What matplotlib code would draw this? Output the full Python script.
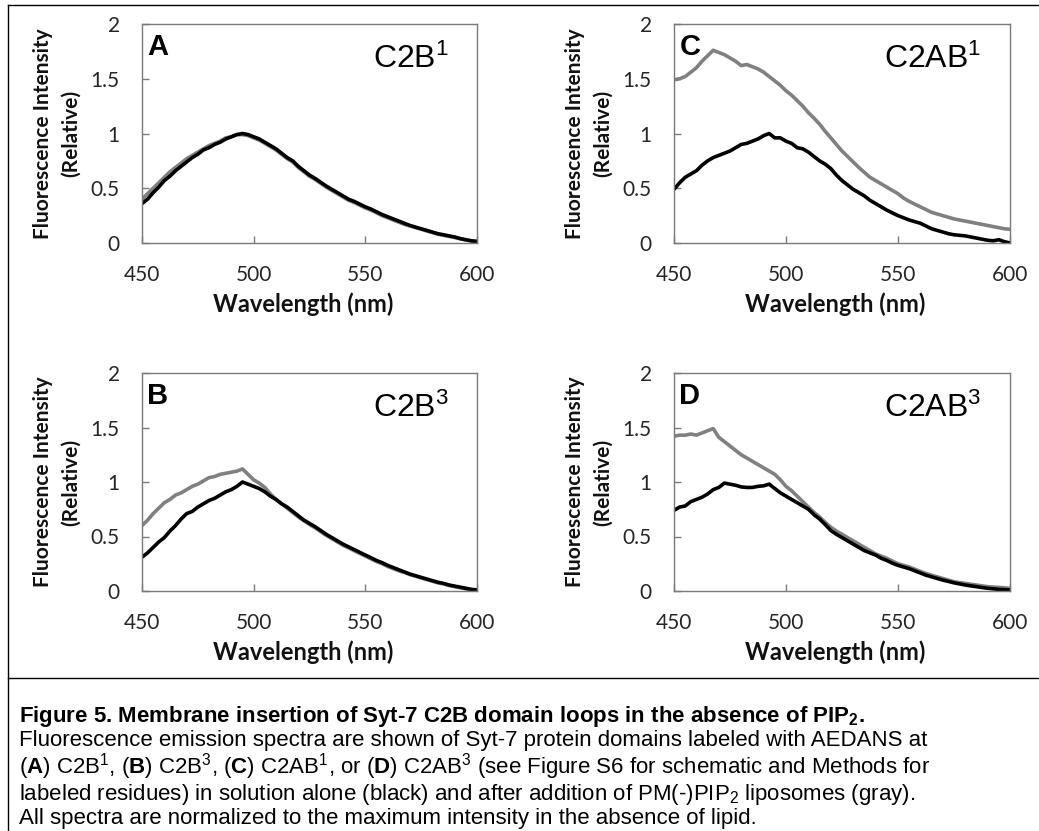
import matplotlib
matplotlib.use('Agg')
import matplotlib.pyplot as plt
from matplotlib.lines import Line2D

plt.rcParams['mathtext.fontset'] = 'custom'
plt.rcParams['mathtext.rm'] = 'Liberation Sans'
plt.rcParams['mathtext.bf'] = 'Liberation Sans:bold'
plt.rcParams['mathtext.it'] = 'Liberation Sans:italic'

W, H = 1039, 831

# wavelength grid (nm)
wavelength = [450, 452.5, 455, 457.5, 460, 462.5, 465, 467.5, 470, 472.5,
              475, 477.5, 480, 482.5, 485, 487.5, 490, 492.5, 495, 497.5,
              500, 502.5, 505, 507.5, 510, 512.5, 515, 517.5, 520, 522.5,
              525, 527.5, 530, 532.5, 535, 537.5, 540, 542.5, 545, 547.5,
              550, 552.5, 555, 557.5, 560, 562.5, 565, 567.5, 570, 572.5,
              575, 577.5, 580, 582.5, 585, 587.5, 590, 592.5, 595, 597.5, 600]

# A: C2B1
c2b1_alone = [0.36, 0.40, 0.46, 0.51, 0.57, 0.61, 0.66, 0.70, 0.74, 0.78,
              0.81, 0.85, 0.87, 0.90, 0.92, 0.95, 0.97, 0.99, 1.00, 0.99,
              0.97, 0.95, 0.92, 0.89, 0.86, 0.82, 0.78, 0.75, 0.70, 0.66,
              0.62, 0.59, 0.555, 0.52, 0.49, 0.46, 0.43, 0.40, 0.38, 0.355,
              0.33, 0.31, 0.285, 0.26, 0.24, 0.22, 0.20, 0.18, 0.16, 0.145,
              0.13, 0.115, 0.10, 0.085, 0.075, 0.065, 0.055, 0.04, 0.03, 0.02, 0.015]
c2b1_lipo = [0.40, 0.45, 0.50, 0.55, 0.60, 0.65, 0.69, 0.73, 0.77, 0.80,
             0.83, 0.86, 0.89, 0.91, 0.93, 0.96, 0.97, 0.99, 0.99, 0.98,
             0.96, 0.94, 0.91, 0.88, 0.85, 0.81, 0.77, 0.74, 0.69, 0.65,
             0.61, 0.58, 0.545, 0.51, 0.48, 0.45, 0.42, 0.39, 0.37, 0.345,
             0.32, 0.30, 0.275, 0.25, 0.23, 0.21, 0.19, 0.17, 0.155, 0.14,
             0.125, 0.11, 0.095, 0.08, 0.07, 0.06, 0.05, 0.038, 0.028, 0.018, 0.012]

# B: C2B3
c2b3_alone = [0.31, 0.35, 0.40, 0.45, 0.49, 0.55, 0.60, 0.66, 0.71, 0.73,
              0.77, 0.80, 0.83, 0.85, 0.88, 0.91, 0.93, 0.96, 1.00, 0.98,
              0.96, 0.94, 0.91, 0.87, 0.84, 0.80, 0.77, 0.73, 0.69, 0.65,
              0.62, 0.59, 0.555, 0.52, 0.49, 0.46, 0.43, 0.405, 0.38, 0.355,
              0.33, 0.305, 0.28, 0.26, 0.235, 0.215, 0.195, 0.175, 0.155, 0.14,
              0.125, 0.11, 0.095, 0.08, 0.07, 0.055, 0.045, 0.035, 0.025, 0.015, 0.01]
c2b3_lipo = [0.60, 0.65, 0.71, 0.76, 0.81, 0.84, 0.88, 0.90, 0.93, 0.96,
             0.98, 1.01, 1.04, 1.05, 1.07, 1.08, 1.09, 1.10, 1.12, 1.07,
             1.02, 0.99, 0.95, 0.89, 0.84, 0.80, 0.76, 0.72, 0.68, 0.645,
             0.61, 0.58, 0.545, 0.51, 0.48, 0.45, 0.42, 0.395, 0.37, 0.345,
             0.32, 0.295, 0.27, 0.25, 0.225, 0.205, 0.185, 0.17, 0.15, 0.135,
             0.12, 0.105, 0.09, 0.075, 0.065, 0.05, 0.04, 0.03, 0.02, 0.012, 0.008]

# C: C2AB1
c2ab1_alone = [0.49, 0.55, 0.60, 0.63, 0.66, 0.71, 0.75, 0.78, 0.80, 0.82,
               0.84, 0.87, 0.90, 0.91, 0.93, 0.95, 0.98, 1.00, 0.96, 0.96,
               0.93, 0.91, 0.87, 0.86, 0.83, 0.79, 0.75, 0.72, 0.68, 0.62,
               0.57, 0.53, 0.49, 0.46, 0.43, 0.39, 0.36, 0.33, 0.30, 0.275,
               0.25, 0.23, 0.21, 0.195, 0.18, 0.155, 0.13, 0.115, 0.10, 0.085,
               0.075, 0.07, 0.065, 0.055, 0.045, 0.035, 0.025, 0.02, 0.03, 0.012, 0.0]
c2ab1_lipo = [1.49, 1.50, 1.52, 1.56, 1.60, 1.66, 1.71, 1.76, 1.74, 1.72,
              1.69, 1.66, 1.62, 1.63, 1.61, 1.59, 1.56, 1.52, 1.48, 1.44,
              1.39, 1.35, 1.30, 1.25, 1.19, 1.14, 1.085, 1.02, 0.96, 0.90,
              0.84, 0.79, 0.74, 0.69, 0.645, 0.60, 0.57, 0.54, 0.51, 0.48,
              0.45, 0.41, 0.38, 0.355, 0.33, 0.305, 0.28, 0.265, 0.25, 0.235,
              0.22, 0.21, 0.20, 0.19, 0.18, 0.17, 0.16, 0.15, 0.14, 0.13, 0.125]

# D: C2AB3
c2ab3_alone = [0.74, 0.77, 0.78, 0.82, 0.84, 0.86, 0.89, 0.93, 0.95, 0.99,
               0.98, 0.97, 0.955, 0.95, 0.95, 0.96, 0.965, 0.98, 0.94, 0.90,
               0.87, 0.84, 0.81, 0.78, 0.75, 0.70, 0.66, 0.61, 0.555, 0.52,
               0.49, 0.46, 0.43, 0.40, 0.37, 0.35, 0.33, 0.30, 0.28, 0.255,
               0.235, 0.22, 0.205, 0.185, 0.165, 0.145, 0.13, 0.115, 0.10, 0.088,
               0.075, 0.065, 0.055, 0.047, 0.04, 0.032, 0.025, 0.02, 0.015, 0.012, 0.01]
c2ab3_lipo = [1.42, 1.43, 1.43, 1.44, 1.43, 1.45, 1.47, 1.49, 1.41, 1.37,
              1.33, 1.29, 1.25, 1.22, 1.19, 1.16, 1.13, 1.10, 1.07, 1.02,
              0.96, 0.92, 0.87, 0.82, 0.77, 0.72, 0.68, 0.63, 0.585, 0.55,
              0.52, 0.49, 0.46, 0.43, 0.40, 0.37, 0.34, 0.32, 0.30, 0.275,
              0.25, 0.235, 0.22, 0.20, 0.18, 0.16, 0.145, 0.13, 0.115, 0.10,
              0.085, 0.077, 0.07, 0.062, 0.055, 0.047, 0.04, 0.036, 0.033, 0.029, 0.025]

panel_letters = ['A', 'B', 'C', 'D']
panel_names = [r'C2B$^1$', r'C2B$^3$', r'C2AB$^1$', r'C2AB$^3$']
alone_series = [c2b1_alone, c2b3_alone, c2ab1_alone, c2ab3_alone]
lipo_series = [c2b1_lipo, c2b3_lipo, c2ab1_lipo, c2ab3_lipo]
x_ticks = [450, 500, 550, 600]
y_ticks = [0, 0.5, 1, 1.5, 2]
y_ticklabels = ['0', '0.5', '1', '1.5', '2']

# axes boxes in pixels: left, top, right, bottom
boxes = [(142, 24, 477, 243), (142, 373, 477, 591),
         (674, 24, 1010, 243), (674, 373, 1010, 591)]

SPINE = '#7a7a7a'
GRAY = '#808080'
TXT = '#262626'

fig = plt.figure(figsize=(W / 100, H / 100), dpi=100)

for i, (l, t, r, b) in enumerate(boxes):
    ax = fig.add_axes([l / W, (H - b) / H, (r - l) / W, (b - t) / H])
    ax.plot(wavelength, lipo_series[i], color=GRAY, lw=2.6, solid_joinstyle='round')
    ax.plot(wavelength, alone_series[i], color='black', lw=2.6, solid_joinstyle='round')
    ax.set_xlim(450, 600)
    ax.set_ylim(0, 2)
    ax.set_xticks(x_ticks)
    ax.set_yticks(y_ticks)
    ax.set_yticklabels(y_ticklabels)
    for s in ax.spines.values():
        s.set_color(SPINE)
        s.set_linewidth(1.0)
    ax.tick_params(axis='both', direction='in', length=5, width=1, color=SPINE,
                   labelcolor=TXT, labelsize=15)
    ax.tick_params(axis='x', pad=16)
    ax.tick_params(axis='y', pad=16)
    for lab in ax.get_xticklabels() + ax.get_yticklabels():
        lab.set_fontfamily('Lato')
    ax.text(0.016, 0.96, panel_letters[i], transform=ax.transAxes, ha='left', va='top',
            fontsize=21, fontweight='bold', family='Liberation Sans')
    ax.text(0.915, 0.91, panel_names[i], transform=ax.transAxes, ha='right', va='top',
            fontsize=23, family='Liberation Sans')
    ax.text(0.48, -61 / (b - t), 'Wavelength (nm)', transform=ax.transAxes,
            ha='center', va='center', fontsize=17, fontweight='bold', family='Lato',
            color='#111111')
    ax.text(-85 / (r - l), 0.5, 'Fluorescence Intensity\n(Relative)', transform=ax.transAxes,
            ha='center', va='center', rotation=90, fontsize=15, fontweight='bold',
            family='Lato', linespacing=1.5, multialignment='center', color='#111111')

# frame around figure and separator above caption
frame_kw = dict(color='black', lw=1.0, transform=fig.transFigure)
fig.add_artist(Line2D([8 / W, 8 / W], [0, 1 - 5 / H], **frame_kw))
fig.add_artist(Line2D([8 / W, 1], [1 - 5 / H, 1 - 5 / H], **frame_kw))
fig.add_artist(Line2D([8 / W, 1], [1 - 678 / H, 1 - 678 / H], **frame_kw))

caption = [
    (r'Figure 5. Membrane insertion of Syt-7 C2B domain loops in the absence of PIP$_\mathbf{2}$.', 'bold'),
    ('Fluorescence emission spectra are shown of Syt-7 protein domains labeled with AEDANS at', 'normal'),
    (r'($\mathbf{A}$) C2B$^1$, ($\mathbf{B}$) C2B$^3$, ($\mathbf{C}$) C2AB$^1$, or ($\mathbf{D}$) C2AB$^3$ '
     '(see Figure S6 for schematic and Methods for', 'normal'),
    (r'labeled residues) in solution alone (black) and after addition of PM(-)PIP$_2$ liposomes (gray).', 'normal'),
    ('All spectra are normalized to the maximum intensity in the absence of lipid.', 'normal'),
]
baselines = [722, 746, 773, 800, 824]
for (txt, wt), yb in zip(caption, baselines):
    fig.text(19 / W, 1 - yb / H, txt, ha='left', va='baseline', fontsize=16,
             fontweight=wt, family='Liberation Sans')

fig.savefig('out.png', dpi=100)
